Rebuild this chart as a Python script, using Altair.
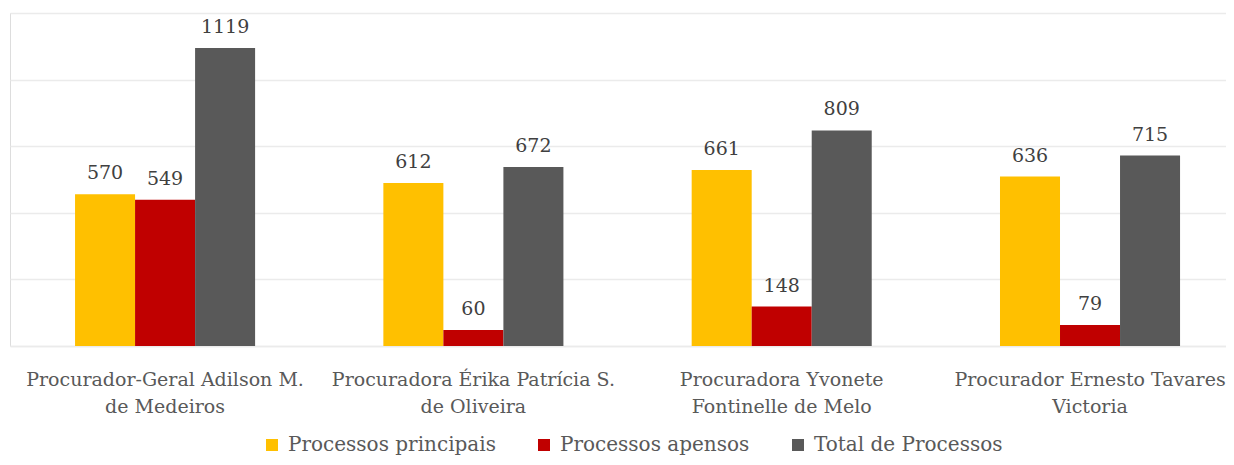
import altair as alt
import pandas as pd

categories = [
    "Procurador-Geral Adilson M.|de Medeiros",
    "Procuradora Érika Patrícia S.|de Oliveira",
    "Procuradora Yvonete|Fontinelle de Melo",
    "Procurador Ernesto Tavares|Victoria",
]
series = ["Processos principais", "Processos apensos", "Total de Processos"]
principais = [570, 612, 661, 636]
apensos = [549, 60, 148, 79]
total = [1119, 672, 809, 715]
colors = ["#FFC000", "#C00000", "#595959"]

rows = []
for i, c in enumerate(categories):
    for s, vals in zip(series, [principais, apensos, total]):
        rows.append({"cat": c, "serie": s, "valor": vals[i]})
df = pd.DataFrame(rows)

FONT = "DejaVu Serif"

x = alt.X(
    "cat:N",
    sort=categories,
    scale=alt.Scale(paddingInner=0.416, paddingOuter=0.18, align=0.586),
    axis=alt.Axis(
        title=None,
        labelExpr="split(datum.label, '|')",
        labelAngle=0,
        labelFont=FONT,
        labelFontSize=19,
        labelColor="#595959",
        labelLineHeight=27,
        labelPadding=24,
        ticks=False,
        domainColor="#EBEBEB",
        domainWidth=1.5,
        grid=False,
        labelLimit=400,
    ),
)
xo = alt.XOffset("serie:N", sort=series, scale=alt.Scale(paddingInner=0, paddingOuter=0))
y = alt.Y(
    "valor:Q",
    scale=alt.Scale(domain=[0, 1250], nice=False),
    axis=alt.Axis(
        title=None,
        values=[0, 250, 500, 750, 1000, 1250],
        labels=False,
        ticks=False,
        domain=False,
        gridColor="#EBEBEB",
        gridWidth=1.5,
    ),
)

bars = alt.Chart(df).mark_bar().encode(
    x=x,
    xOffset=xo,
    y=y,
    color=alt.Color(
        "serie:N",
        sort=series,
        scale=alt.Scale(domain=series, range=colors),
        legend=alt.Legend(
            title=None,
            orient="none",
            direction="horizontal",
            legendX=252,
            legendY=422,
            symbolType="square",
            symbolSize=144,
            symbolStrokeWidth=0,
            labelFont=FONT,
            labelFontSize=20,
            labelColor="#595959",
            labelOffset=6,
            columnPadding=38,
            labelLimit=400,
        ),
    ),
)

labels = alt.Chart(df).mark_text(
    dy=-15, font=FONT, fontSize=19, color="#404040", baseline="alphabetic"
).encode(x=x, xOffset=xo, y=y, text="valor:Q")

chart = (
    alt.layer(bars, labels)
    .properties(
        width=1216,
        height=333,
        autosize=alt.AutoSizeParams(type="none"),
        padding={"left": 2, "top": 5, "right": 0, "bottom": 111},
    )
    .configure_view(stroke=None)
    .configure(background="white")
)

chart.save("out.html", embed_options={"renderer": "svg", "actions": False})
